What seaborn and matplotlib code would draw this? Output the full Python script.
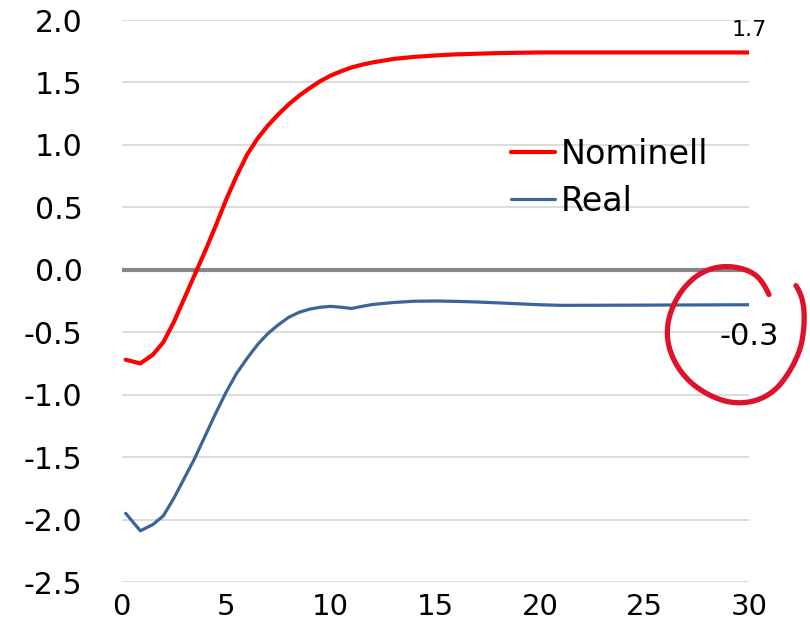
import numpy as np
import pandas as pd
import matplotlib
matplotlib.use("Agg")
import matplotlib.pyplot as plt
from matplotlib.transforms import IdentityTransform
import seaborn as sns

# Yield curves by maturity (years)
maturity = [0.2, 0.9, 1.5, 2.0, 2.5, 3.0, 3.5, 4.0, 4.5, 5.0, 5.5, 6.0, 6.5, 7.0,
            7.5, 8.0, 8.5, 9.0, 9.5, 10.0, 10.5, 11.0, 11.5, 12.0, 13.0, 14.0,
            15.0, 16.0, 17.0, 18.0, 20.0, 21.0, 25.0, 30.0]
nominell = [-0.72, -0.75, -0.68, -0.58, -0.42, -0.23, -0.04, 0.15, 0.35, 0.56,
            0.75, 0.92, 1.05, 1.155, 1.245, 1.325, 1.395, 1.455, 1.51, 1.555,
            1.59, 1.62, 1.642, 1.66, 1.688, 1.705, 1.716, 1.725, 1.73, 1.735,
            1.74, 1.74, 1.74, 1.74]
real = [-1.95, -2.09, -2.04, -1.97, -1.83, -1.67, -1.51, -1.33, -1.15, -0.98,
        -0.83, -0.71, -0.60, -0.51, -0.44, -0.38, -0.34, -0.315, -0.30, -0.293,
        -0.30, -0.31, -0.293, -0.278, -0.262, -0.252, -0.25, -0.253, -0.258,
        -0.265, -0.28, -0.285, -0.283, -0.28]

series_names = ["Nominell", "Real"]
series_colors = ["#FF0000", "#3A6598"]
x_ticks = [0, 5, 10, 15, 20, 25, 30]
y_ticks = [-2.5, -2.0, -1.5, -1.0, -0.5, 0.0, 0.5, 1.0, 1.5, 2.0]
y_tick_labels = ["-2.5", "-2.0", "-1.5", "-1.0", "-0.5", "0.0", "0.5", "1.0", "1.5", "2.0"]

df = pd.DataFrame({
    "maturity": maturity * 2,
    "rate": nominell + real,
    "series": [series_names[0]] * len(maturity) + [series_names[1]] * len(maturity),
})

sns.set_theme(style="white")
plt.rcParams["font.family"] = ["DejaVu Sans"]
plt.rcParams["axes.unicode_minus"] = False
plt.rcParams["text.color"] = "black"

W, H = 810, 628
fig = plt.figure(figsize=(W / 100, H / 100), dpi=100)
left, right, top, bottom = 121.5, 749, 20, 582
ax = fig.add_axes([left / W, (H - bottom) / H, (right - left) / W, (bottom - top) / H])

line_widths = [3.0, 2.3]
sns.lineplot(data=df, x="maturity", y="rate", hue="series", palette=series_colors,
             hue_order=series_names, ax=ax, legend=False, zorder=3)
for line, lw in zip(ax.lines, line_widths):
    line.set_linewidth(lw)
    line.set_solid_capstyle("round")
    line.set_solid_joinstyle("round")

ax.set_xlim(0, 30)
ax.set_ylim(-2.5, 2.0)
ax.set_xticks(x_ticks)
ax.set_yticks(y_ticks)
ax.set_yticklabels(y_tick_labels)
ax.set_xlabel("")
ax.set_ylabel("")
for s in ax.spines.values():
    s.set_visible(False)
ax.yaxis.grid(True, color="#D9D9D9", lw=1.3)
ax.xaxis.grid(False)
ax.set_axisbelow(True)
ax.axhline(0, color="#868686", lw=3, zorder=2)
ax.tick_params(axis="y", length=0, pad=28, labelsize=21.5, labelcolor="black")
ax.tick_params(axis="x", length=0, pad=8, labelsize=21, labelcolor="black")

# Legend
handles = [plt.Line2D([], [], color=c, lw=lw) for c, lw in zip(series_colors, line_widths)]
leg = ax.legend(handles, series_names, loc="upper left", bbox_to_anchor=(0.621, 0.79),
                frameon=False, fontsize=24, handlelength=1.3, handletextpad=0.18,
                labelspacing=0.42, borderpad=0, borderaxespad=0)
for t in leg.get_texts():
    t.set_color("black")

# End-point value labels
ax.text(maturity[-1], nominell[-1] + 0.1, f"{nominell[-1]:.1f}", ha="center",
        va="bottom", fontsize=16, color="black", clip_on=False)
ax.text(maturity[-1], real[-1] - 0.255, f"{real[-1]:.1f}", ha="center",
        va="center", fontsize=22, color="black", clip_on=False)

# Hand-drawn ring around the real end value
cx, cy = 735, H - 335
ang = np.array([50, 63, 89, 113, 155, 178, 212, 244, 271, 297, 330, 367, 390, 399])
rad = np.array([49.7, 61.7, 68, 71, 68, 68, 65, 64.5, 68, 69, 64.5, 68.5, 77, 79.4])
th = np.linspace(50, 399, 400)
r = np.interp(th, ang, rad)
k = 31
r = np.convolve(np.pad(r, k // 2, mode="edge"), np.ones(k) / k, mode="valid")
fig.add_artist(plt.Line2D(cx + r * np.cos(np.radians(th)), cy + r * np.sin(np.radians(th)),
                          transform=IdentityTransform(), color="#E0112B", lw=3.8,
                          solid_capstyle="round"))

fig.savefig("out.png", dpi=100)
